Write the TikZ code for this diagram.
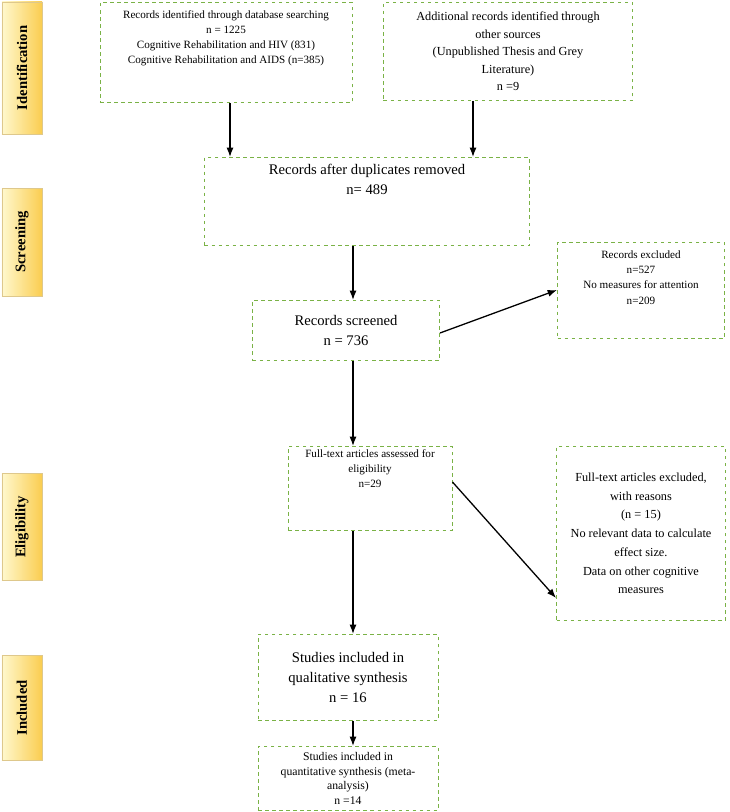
\documentclass[tikz,border=0pt]{standalone}
\usepackage{fontspec}
\setmainfont{Liberation Serif}
\usetikzlibrary{arrows.meta,positioning}
\definecolor{boxgreen}{RGB}{122,178,70}
\definecolor{tabtop}{RGB}{255,248,205}
\definecolor{tabbot}{RGB}{250,205,80}
\tikzset{bx/.style={draw=boxgreen,dashed,thick,align=center,inner sep=2pt,font=\fontsize{9.5}{13}\selectfont}}
\tikzset{big/.style={font=\fontsize{12.5}{17}\selectfont}}
\tikzset{tab/.style={draw=tabbot!80!black!60,left color=tabtop,right color=tabbot,minimum height=1.2cm,rotate=90,font=\bfseries\fontsize{12.5}{14}\selectfont}}
\tikzset{ar/.style={-{Latex[length=2.8mm]},line width=1.1pt}}
\begin{document}
\begin{tikzpicture}[x=0.03cm,y=-0.03cm]
                \useasboundingbox (0,0) rectangle (730,812);
                % stage tabs
                \node[tab,minimum width=3.96cm] (t1) at (22,68) {Identification};
                \node[tab,minimum width=3.24cm] (t2) at (22,242) {Screening};
                \node[tab,minimum width=3.21cm] (t3) at (22,527) {Eligibility};
                \node[tab,minimum width=3.15cm] (t4) at (22,708) {Included};
                % boxes
                \node[bx,minimum width=7.56cm,minimum height=3cm,anchor=north] (rec) at (226,2) {Records identified through database searching\\n = 1225\\Cognitive Rehabilitation and HIV (831)\\Cognitive Rehabilitation and AIDS (n=385)\\[1.4em]};
                \node[bx,minimum width=7.47cm,minimum height=2.94cm,anchor=north,font=\fontsize{10.5}{15}\selectfont] (add) at (508,2) {Additional records identified through\\other sources\\(Unpublished Thesis and Grey\\Literature)\\n =9};
                \node[bx,big,minimum width=9.75cm,minimum height=2.64cm,anchor=north] (dup) at (367,157) {Records after duplicates removed\\n= 489\\[1.6em]};
                \node[bx,big,minimum width=5.61cm,minimum height=1.8cm,anchor=north] (scr) at (346,300) {Records screened\\n = 736};
                \node[bx,minimum width=5.01cm,minimum height=2.88cm,anchor=north] (exc) at (641,242) {Records excluded\\n=527\\No measures for attention\\n=209\\[1em]};
                \node[bx,minimum width=4.92cm,minimum height=2.52cm,anchor=north] (full) at (370,446) {Full-text articles assessed for\\eligibility\\n=29\\[2.2em]};
                \node[bx,minimum width=5.07cm,minimum height=5.22cm,anchor=north,font=\fontsize{10.5}{16}\selectfont] (fex) at (641,446) {Full-text articles excluded,\\with reasons\\(n = 15)\\No relevant data to calculate\\effect size.\\Data on other cognitive\\measures};
                \node[bx,big,minimum width=5.4cm,minimum height=2.58cm,anchor=north] (qual) at (348,634) {Studies included in\\qualitative synthesis\\n = 16};
                \node[bx,minimum width=5.4cm,minimum height=1.92cm,anchor=north,font=\fontsize{10}{12.5}\selectfont] (quan) at (348,746) {Studies included in\\quantitative synthesis (meta-\\analysis)\\n =14};
                % arrows
                \draw[ar] (rec.south -| 230,0) -- (dup.north -| 230,0);
                \draw[ar] (add.south -| 473,0) -- (dup.north -| 473,0);
                \draw[ar] (dup.south -| 353,0) -- (scr.north -| 353,0);
                \draw[ar] (scr.east |- 0,333) -- (exc.west |- 0,290);
                \draw[ar] (scr.south -| 353,0) -- (full.north -| 353,0);
                \draw[ar] (full.east |- 0,482) -- (fex.west |- 0,598);
                \draw[ar] (full.south -| 353,0) -- (qual.north -| 353,0);
                \draw[ar] (qual.south -| 353,0) -- (quan.north -| 353,0);
            \end{tikzpicture}
\end{document}
